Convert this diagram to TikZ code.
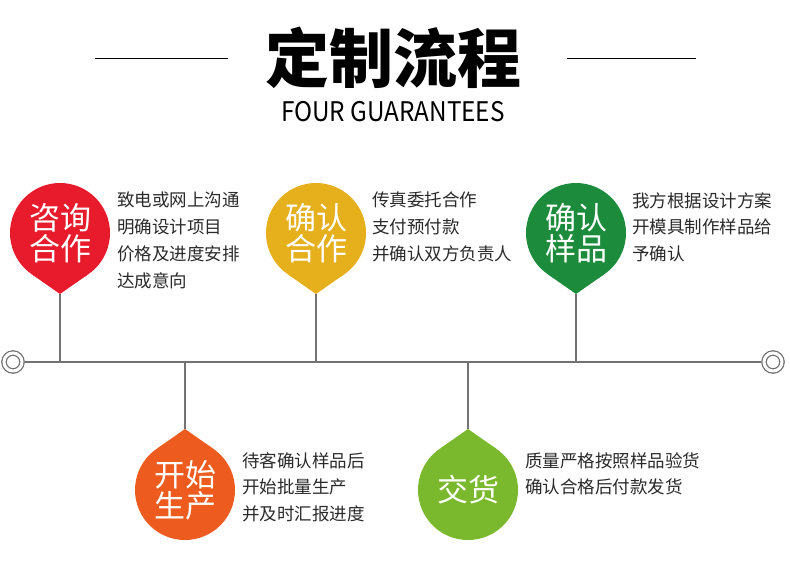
\documentclass[tikz,border=0pt]{standalone}
\usepackage{fontspec}
\setmainfont{Noto Sans CJK SC}
\usepackage{xcolor}
\usetikzlibrary{positioning}

\definecolor{dropred}{HTML}{E81B2C}
\definecolor{dropgold}{HTML}{E5B01C}
\definecolor{dropgreen}{HTML}{1C8C3C}
\definecolor{droporange}{HTML}{EE5B1E}
\definecolor{droplime}{HTML}{7AB92E}
\definecolor{linegray}{HTML}{727272}
\definecolor{textgray}{HTML}{2A2A2A}

\begin{document}
\begin{tikzpicture}[
    x=1pt, y=-1pt,
    drop/.style={circle, minimum size=100pt, inner sep=0pt, outer sep=0pt, text=white, align=center, font=\fontsize{31}{31}\selectfont},
    note/.style={anchor=north west, inner sep=0pt, align=left, text=textgray, font=\fontsize{17.5}{26.7}\selectfont},
    stem/.style={draw=linegray, line width=1.2pt},
    ring/.style={circle, draw=linegray, line width=1.3pt, double=white, double distance=3pt, minimum size=18pt, inner sep=0pt, outer sep=3pt},
    rule/.style={draw=black, line width=1pt}
]
\useasboundingbox (0,0) rectangle (790,581);

% heading
\node[font=\fontsize{64}{64}\selectfont\bfseries] (title) at (393,58) {定制流程};
\node[font=\fontsize{27}{27}\selectfont\addfontfeatures{FakeStretch=0.9}] (subtitle) at (393,112) {FOUR GUARANTEES};
\coordinate (rule1a) at (95,58);
\coordinate (rule1b) at (228,58);
\coordinate (rule2a) at (567,58);
\coordinate (rule2b) at (696,58);
\draw[rule] (rule1a) -- (rule1b);
\draw[rule] (rule2a) -- (rule2b);

% time line
\node[ring] (lring) at (13,362) {};
\node[ring] (rring) at (773,362) {};
\draw[stem, line width=1.5pt] (lring) -- (rring);

% upper drops
\node[drop, fill=dropred] (zixun) at (60,233) {咨询\\合作};
\node[drop, fill=dropgold] (queren) at (316,233) {确认\\合作};
\node[drop, fill=dropgreen] (yangpin) at (576,233) {确认\\样品};
\coordinate (tip1) at ([yshift=-61pt]zixun.center);
\coordinate (tip2) at ([yshift=-61pt]queren.center);
\coordinate (tip3) at ([yshift=-61pt]yangpin.center);
\fill[dropred] (tip1) -- (zixun.-56.44) -- (zixun.-123.56) -- cycle;
\fill[dropgold] (tip2) -- (queren.-56.44) -- (queren.-123.56) -- cycle;
\fill[dropgreen] (tip3) -- (yangpin.-56.44) -- (yangpin.-123.56) -- cycle;
\coordinate (foot1) at (60,362);
\coordinate (foot2) at (316,362);
\coordinate (foot3) at (576,362);
\draw[stem] (tip1) -- (foot1);
\draw[stem] (tip2) -- (foot2);
\draw[stem] (tip3) -- (foot3);

% lower drops
\node[drop, fill=droporange] (shengchan) at (185,490) {开始\\生产};
\node[drop, fill=droplime] (jiaohuo) at (468,490) {交货};
\coordinate (tip4) at ([yshift=61pt]shengchan.center);
\coordinate (tip5) at ([yshift=61pt]jiaohuo.center);
\fill[droporange] (tip4) -- (shengchan.56.44) -- (shengchan.123.56) -- cycle;
\fill[droplime] (tip5) -- (jiaohuo.56.44) -- (jiaohuo.123.56) -- cycle;
\coordinate (foot4) at (185,362);
\coordinate (foot5) at (468,362);
\draw[stem] (foot4) -- (tip4);
\draw[stem] (foot5) -- (tip5);

% notes
\node[note] (zixun note) at (117,192) {致电或网上沟通\\明确设计项目\\价格及进度安排\\达成意向};
\node[note] (queren note) at (372,192) {传真委托合作\\支付预付款\\并确认双方负责人};
\node[note] (yangpin note) at (632,192) {我方根据设计方案\\开模具制作样品给\\予确认};
\node[note] (shengchan note) at (242,452) {待客确认样品后\\开始批量生产\\并及时汇报进度};
\node[note] (jiaohuo note) at (525,452) {质量严格按照样品验货\\确认合格后付款发货};
\end{tikzpicture}
\end{document}
